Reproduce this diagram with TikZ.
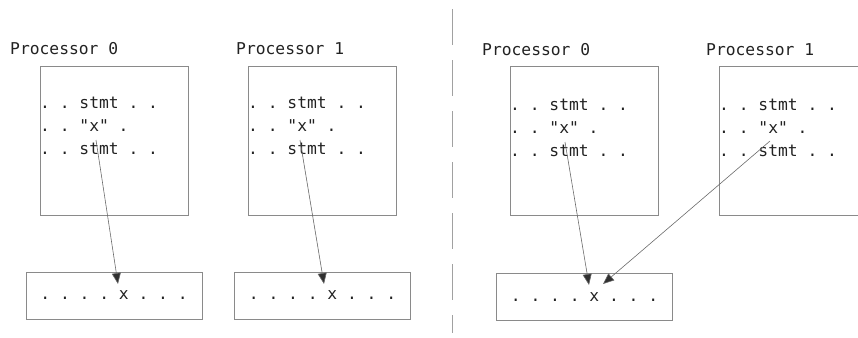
\documentclass[tikz,border=0pt]{standalone}
\usepackage{fontspec}
\setmonofont{DejaVu Sans Mono}
\usetikzlibrary{arrows.meta}
\definecolor{boxgray}{HTML}{8A8A8A}
\definecolor{linegray}{HTML}{6A6A6A}
\definecolor{tipgray}{HTML}{303030}
\definecolor{txt}{HTML}{222222}
\tikzset{
  procbox/.style={draw=boxgray, line width=0.9pt, minimum width=148pt, minimum height=149pt, inner sep=0pt},
  membox/.style={draw=boxgray, line width=0.9pt, minimum width=176pt, minimum height=47pt, inner sep=0pt, font=\ttfamily\fontsize{16.3}{18}\selectfont, text=txt},
  codeline/.style={anchor=base west, inner sep=0pt, font=\ttfamily\fontsize{16.3}{18}\selectfont, text=txt},
  title/.style={anchor=base west, inner sep=0pt, font=\ttfamily\fontsize{16.3}{18}\selectfont, text=txt},
  link/.style={draw=linegray, line width=0.6pt, -{Triangle[length=11pt,width=9pt,fill=tipgray]}}
}
\begin{document}
\begin{tikzpicture}[x=1pt,y=-1pt]
\useasboundingbox (0,0) rectangle (858,337);
\clip (0,0) rectangle (858,337);
% divider
\draw[boxgray!80, line width=0.9pt, dash pattern=on 36pt off 15pt] (452,9) -- (452,333);

% ---------- left panel ----------
\node[title] (t0) at (10,55) {Processor 0};
\node[title] (t1) at (236,55) {Processor 1};
\node[procbox] (p0) at (114,140.5) {};
\node[procbox] (p1) at (322.5,140.5) {};
\node[codeline] (a1) at (40,108) {. . stmt . .};
\node[codeline] (a2) at (40,131) {. . "x" .};
\node[codeline] (a3) at (40,154) {. . stmt . .};
\node[codeline] (b1) at (248,108) {. . stmt . .};
\node[codeline] (b2) at (248,131) {. . "x" .};
\node[codeline] (b3) at (248,154) {. . stmt . .};
\node[membox] (m0) at (114,295.5) {. . . . x . . .};
\node[membox] (m1) at (322.5,295.5) {. . . . x . . .};
\coordinate (s0) at (96,140);
\coordinate (e0) at (118,284);
\coordinate (s1) at (300,140);
\coordinate (e1) at (324,284);
\draw[link] (s0) -- (e0);
\draw[link] (s1) -- (e1);

% ---------- right panel ----------
\node[title] (u0) at (482,56) {Processor 0};
\node[title] (u1) at (706,56) {Processor 1};
\node[procbox] (q0) at (584.5,141) {};
\node[procbox] (q1) at (793,141) {};
\node[codeline] (c1) at (510,110) {. . stmt . .};
\node[codeline] (c2) at (510,133) {. . "x" .};
\node[codeline] (c3) at (510,156) {. . stmt . .};
\node[codeline] (d1) at (719,110) {. . stmt . .};
\node[codeline] (d2) at (719,133) {. . "x" .};
\node[codeline] (d3) at (719,156) {. . stmt . .};
\node[membox] (mr) at (584.5,297) {. . . . x . . .};
\coordinate (s2) at (565,142);
\coordinate (e2) at (589,285);
\coordinate (s3) at (770,141);
\coordinate (e3) at (603,284);
\draw[link] (s2) -- (e2);
\draw[link] (s3) -- (e3);
\end{tikzpicture}
\end{document}
